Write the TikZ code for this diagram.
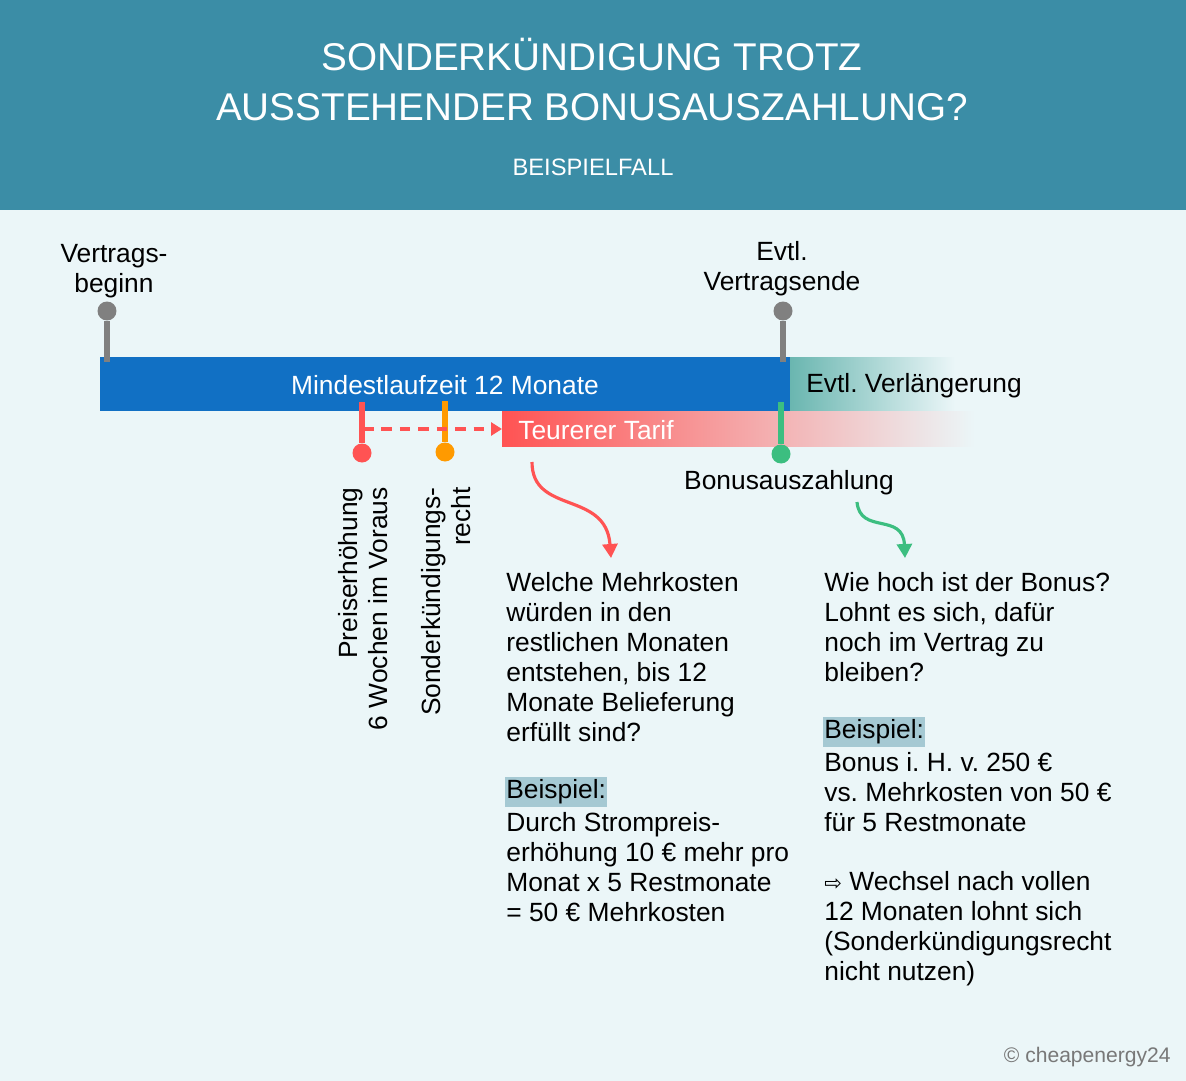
\documentclass[tikz,border=0pt]{standalone}
\usepackage{fontspec}
\setmainfont{Liberation Sans}
\newfontfamily\arrowfont{DejaVu Sans}
\usetikzlibrary{arrows.meta,calc,positioning}
\frenchspacing

\definecolor{bgcol}{RGB}{235,246,248}
\definecolor{headcol}{RGB}{59,141,166}
\definecolor{barblue}{RGB}{17,112,196}
\definecolor{barteal}{RGB}{106,182,176}
\definecolor{barred}{RGB}{255,83,83}
\definecolor{markorange}{RGB}{255,154,0}
\definecolor{markgreen}{RGB}{60,190,128}
\definecolor{pingray}{RGB}{128,128,128}
\definecolor{hilitecol}{RGB}{165,201,211}
\definecolor{footgray}{RGB}{120,120,120}

\tikzset{
	bodyfont/.style={font=\fontsize{15}{17.07}\selectfont},
	pin line/.style={line width=3pt},
	pin dot/.style={circle,inner sep=0pt,minimum size=0.38cm},
	body text/.style={bodyfont,align=left,inner sep=0pt,anchor=north west},
	side label/.style={bodyfont,rotate=90,anchor=east,align=right,inner sep=0pt},
	hilite/.style={bodyfont,fill=hilitecol,inner xsep=0.6pt,inner ysep=0pt,text height=12.3pt,text depth=4.7pt,anchor=west},
	curved arrow/.style={line width=1.8pt,-{Triangle[length=0.28cm,width=0.3cm]}},
}

\begin{document}
\begin{tikzpicture}[x=0.02cm,y=-0.02cm]
	\useasboundingbox (0,0) rectangle (1186,1081);

	% Background and header band
	\fill [bgcol] (0,0) rectangle (1186,1081);
	\fill [headcol] (0,0) rectangle (1186,210);

	% Title
	\node [white,align=center,font=\fontsize{22}{28.45}\selectfont] (title) at (592,80)
		{SONDERKÜNDIGUNG TROTZ\\AUSSTEHENDER BONUSAUSZAHLUNG?};
	\node [white,font=\fontsize{13.5}{16}\selectfont] (subtitle) at (593,167) {BEISPIELFALL};

	% Drawing bars
	\fill [barblue] (100,357) rectangle (790,411);
	\shade [left color=barteal,right color=bgcol] (790,357) rectangle (955,411);
	\shade [left color=barred,right color=bgcol] (502,411) rectangle (975,446);

	\node [white,bodyfont] (laufzeit) at (445,385) {Mindestlaufzeit 12 Monate};
	\node [bodyfont,anchor=west,inner sep=0pt] (verlaengerung) at (806,386) {Evtl. Verlängerung};
	\node [white,bodyfont,anchor=west,inner sep=0pt] (tarif) at (518,430) {Teurerer Tarif};

	% Drawing gray pins
	\node [pin dot,fill=pingray] (startdot) at (107,311) {};
	\coordinate (startfoot) at (107,362);
	\draw [pin line,pingray] (startdot) -- (startfoot);
	\node [pin dot,fill=pingray] (enddot) at (783,311) {};
	\coordinate (endfoot) at (783,362);
	\draw [pin line,pingray] (enddot) -- (endfoot);

	\node [bodyfont,align=center] (beginn) at (114,271) {Vertrags-\\beginn};
	\node [bodyfont,align=center] (vertragsende) at (782,269) {Evtl.\\Vertragsende};

	% Drawing markers below the bar
	\coordinate (preistop) at (362,402);
	\node [pin dot,fill=barred] (preisdot) at (362,453) {};
	\draw [pin line,barred] (preistop) -- (preisdot);
	\coordinate (rechttop) at (445,401);
	\node [pin dot,fill=markorange] (rechtdot) at (445,452) {};
	\draw [pin line,markorange] (rechttop) -- (rechtdot);
	\coordinate (bonustop) at (781,402);
	\node [pin dot,fill=markgreen] (bonusdot) at (781,454) {};
	\draw [pin line,markgreen] (bonustop) -- (bonusdot);

	% Dashed arrow to the dearer tariff
	\coordinate (dashstart) at (363,429);
	\coordinate (tarifstart) at (502,429);
	\draw [barred,line width=2pt,dash pattern=on 6pt off 4.5pt,-{Triangle[length=0.22cm,width=0.26cm]}] (dashstart) -- (tarifstart);

	% Marker labels
	\node [side label] (preislabel) at (363,487) {Preiserhöhung\\6 Wochen im Voraus};
	\node [side label] (rechtlabel) at (446,487) {Sonderkündigungs-\\recht};
	\node [bodyfont] (bonuslabel) at (789,483) {Bonusauszahlung};

	% Curved arrows
	\coordinate (redfrom) at (532,462);
	\coordinate (redto) at (611,558);
	\draw [curved arrow,barred] (redfrom) .. controls (532,515) and (606,490) .. (redto);
	\coordinate (greenfrom) at (857,502);
	\coordinate (greento) at (905,558);
	\draw [curved arrow,markgreen] (greenfrom) .. controls (860,535) and (903,512) .. (greento);

	% Left text block
	\node [body text] (kostenfrage) at (506,572)
		{Welche Mehrkosten\\würden in den\\restlichen Monaten\\entstehen, bis 12\\Monate Belieferung\\erfüllt sind?};
	\node [hilite] (beispielA) at (505,792) {Beispiel:};
	\node [body text] (kostenbsp) at (506,812)
		{Durch Strompreis-\\erhöhung 10 € mehr pro\\Monat x 5 Restmonate\\= 50 € Mehrkosten};

	% Right text block
	\node [body text] (bonusfrage) at (824,572)
		{Wie hoch ist der Bonus?\\Lohnt es sich, dafür\\noch im Vertrag zu\\bleiben?};
	\node [hilite] (beispielB) at (823,732) {Beispiel:};
	\node [body text] (bonusbsp) at (824,752)
		{Bonus i. H. v. 250 €\\vs. Mehrkosten von 50 €\\für 5 Restmonate};
	\node [body text] (fazit) at (824,871)
		{{\arrowfont\fontsize{12}{17.07}\selectfont ⇨} Wechsel nach vollen\\12 Monaten lohnt sich\\(Sonderkündigungsrecht\\nicht nutzen)};

	% Footer
	\node [anchor=east,inner sep=0pt,text=footgray,font=\fontsize{12}{14}\selectfont] (footer) at (1171,1057) {© cheapenergy24};
\end{tikzpicture}
\end{document}
